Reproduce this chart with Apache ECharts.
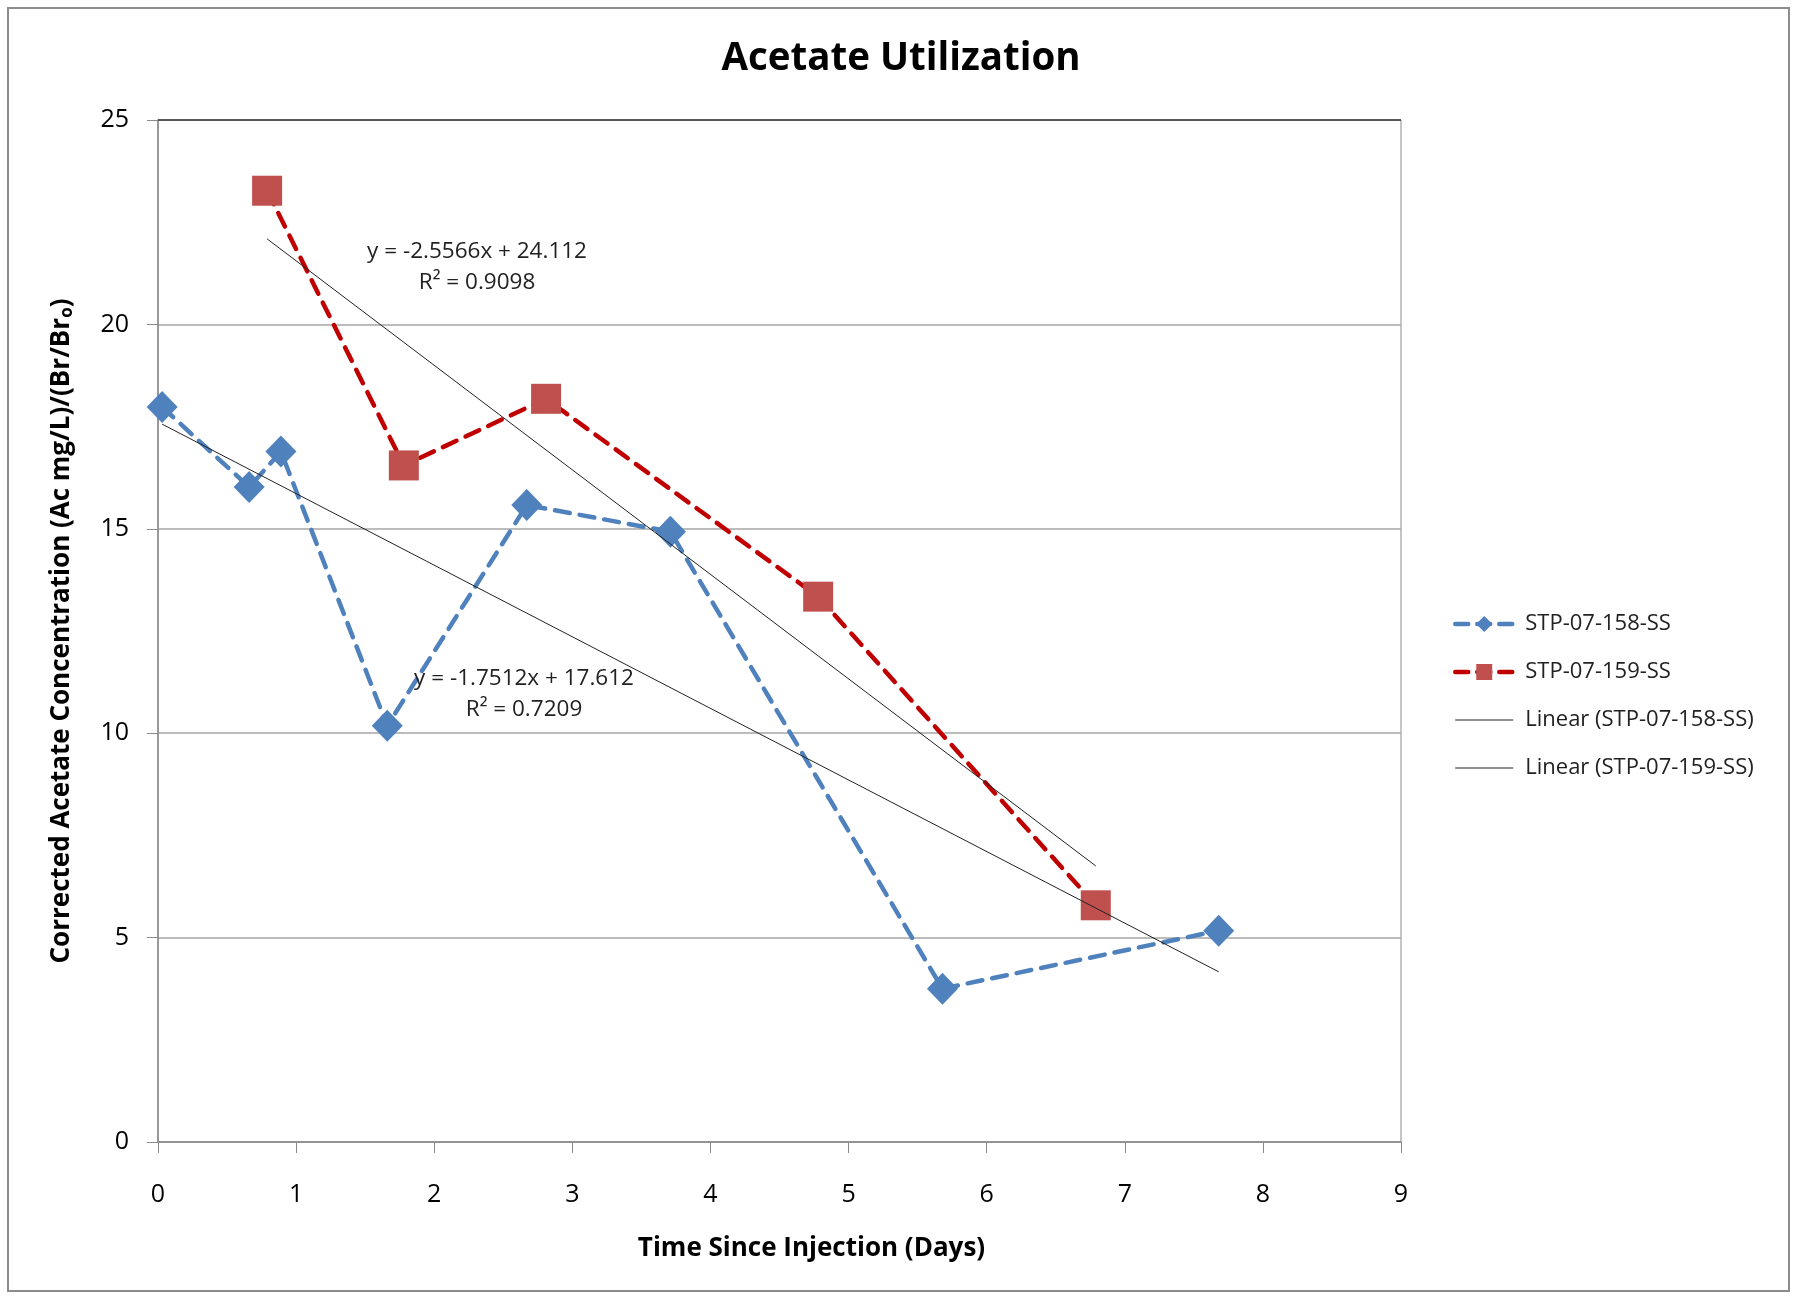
<!DOCTYPE html>
<html><head><meta charset="utf-8">
<script src="https://cdn.jsdelivr.net/npm/echarts@6/dist/echarts.min.js"></script>
<style>html,body{margin:0;padding:0;background:#fff}#c{width:1793px;height:1297px}</style>
</head><body><div id="c"></div>
<script>
// ---- data ----
const days158 = [0.03, 0.66, 0.89, 1.66, 2.67, 3.71, 5.68, 7.68];
const conc158 = [17.98, 16.02, 16.89, 10.18, 15.58, 14.93, 3.75, 5.17];
const days159 = [0.79, 1.78, 2.81, 4.78, 6.79];
const conc159 = [23.27, 16.55, 18.18, 13.34, 5.79];
// trendline equations as printed on the chart: [slope, intercept]
const fit158 = [-1.7512, 17.612];
const fit159 = [-2.5566, 24.112];
const r2_158 = '0.7209';
const r2_159 = '0.9098';
const seriesNames = ['STP-07-158-SS', 'STP-07-159-SS', 'Linear (STP-07-158-SS)', 'Linear (STP-07-159-SS)'];
const xTicks = [0, 1, 2, 3, 4, 5, 6, 7, 8, 9];
const yTicks = [0, 5, 10, 15, 20, 25];
// annotation anchors in data coordinates
const eqPos159 = [2.31, 21.77];
const eqPos158 = [2.65, 11.35];

const FONT = '"Open Sans", "Noto Sans", sans-serif';
const pair = (xs, ys) => xs.map((x, i) => [x, ys[i]]);
const trend = (xs, f) => [xs[0], xs[xs.length - 1]].map(x => [x, f[0] * x + f[1]]);

const chart = echarts.init(document.getElementById('c'), null, {renderer: 'canvas'});
const option = {
  backgroundColor: '#fff',
  animation: false,
  textStyle: {fontFamily: FONT},
  title: {
    text: 'Acetate Utilization', left: 896, top: 35, textAlign: 'center',
    textStyle: {fontFamily: FONT, fontWeight: 'bold', fontSize: 38.5, color: '#000'}
  },
  grid: {left: 158, top: 120, width: 1243, height: 1022, show: true, borderColor: '#8a8a8a', borderWidth: 1},
  legend: {
    orient: 'vertical', left: 1448, top: 608, itemWidth: 58, itemHeight: 20, itemGap: 26,
    textStyle: {fontFamily: FONT, fontSize: 22, color: '#222', padding: [0, 0, 0, 7]},
    data: [
      {name: seriesNames[0], lineStyle: {width: 4.5, type: [13, 9]}},
      {name: seriesNames[1], lineStyle: {width: 4.5, type: [13, 9]}},
      {name: seriesNames[2], itemStyle: {opacity: 0}, lineStyle: {width: 1}},
      {name: seriesNames[3], itemStyle: {opacity: 0}, lineStyle: {width: 1}}
    ]
  },
  xAxis: {
    type: 'value', min: 0, max: 9, interval: 1,
    name: 'Time Since Injection (Days)', nameLocation: 'middle', nameGap: 94,
    nameTextStyle: {fontFamily: FONT, fontWeight: 'bold', fontSize: 26, color: '#000', padding: [0, 0, 0, 64]},
    axisLine: {show: true, lineStyle: {color: '#8a8a8a', width: 1.5}},
    axisTick: {show: true, inside: false, length: 11, lineStyle: {color: '#8a8a8a'}},
    axisLabel: {fontFamily: FONT, fontSize: 25, color: '#000', margin: 40, formatter: v => xTicks.includes(v) ? String(v) : ''},
    splitLine: {show: false}
  },
  yAxis: {
    type: 'value', min: 0, max: 25, interval: 5,
    name: 'Corrected Acetate Concentration (Ac mg/L)/(Br/Br{s|o})', nameLocation: 'middle', nameGap: 82, nameRotate: 90,
    nameTextStyle: {fontFamily: FONT, fontWeight: 'bold', fontSize: 26, color: '#000',
      rich: {s: {fontFamily: FONT, fontWeight: 'bold', fontSize: 17, color: '#000', padding: [12, 0, 0, 0]}}},
    axisLine: {show: true, lineStyle: {color: '#8a8a8a', width: 1.5}},
    axisTick: {show: true, inside: false, length: 11, lineStyle: {color: '#8a8a8a'}},
    axisLabel: {fontFamily: FONT, fontSize: 25, color: '#000', margin: 29, formatter: v => yTicks.includes(v) ? String(v) : ''},
    splitLine: {show: true, lineStyle: {color: '#a6a6a6', width: 1.5}}
  },
  series: [
    {
      name: seriesNames[0], type: 'line', data: pair(days158, conc158),
      symbol: 'diamond', symbolSize: [31, 32], z: 4,
      itemStyle: {color: '#4F81BD'},
      lineStyle: {color: '#4F81BD', width: 4.5, type: [15, 10], cap: 'round'}
    },
    {
      name: seriesNames[1], type: 'line', data: pair(days159, conc159),
      symbol: 'rect', symbolSize: 30, z: 4,
      itemStyle: {color: '#C0504D'},
      lineStyle: {color: '#C00000', width: 4.5, type: [15, 10], cap: 'round'}
    },
    {
      name: seriesNames[2], type: 'line', data: trend(days158, fit158),
      symbol: 'none', z: 5, itemStyle: {color: '#222'},
      lineStyle: {color: '#222', width: 1}
    },
    {
      name: seriesNames[3], type: 'line', data: trend(days159, fit159),
      symbol: 'none', z: 5, itemStyle: {color: '#222'},
      lineStyle: {color: '#222', width: 1}
    }
  ]
};
chart.setOption(option);

function eqGraphic(pos, f, r2) {
  const p = chart.convertToPixel({gridIndex: 0}, pos);
  const sign = f[1] >= 0 ? '+ ' : '- ';
  return {
    type: 'text', x: p[0], y: p[1], z: 10,
    style: {
      text: 'y = ' + f[0] + 'x ' + sign + Math.abs(f[1]) + '\nR² = ' + r2,
      fontFamily: FONT, fontSize: 22.5, fill: '#222', align: 'center', verticalAlign: 'middle', lineHeight: 31
    }
  };
}
chart.setOption({
  graphic: [
    {type: 'rect', shape: {x: 8, y: 8, width: 1781, height: 1283}, style: {fill: 'none', stroke: '#8c8c8c', lineWidth: 2}, z: 0},
    {type: 'line', shape: {x1: 158, y1: 120, x2: 1401, y2: 120}, style: {stroke: '#3a3a3a', lineWidth: 1.5}, z: 1},
    eqGraphic([eqPos159[0], eqPos159[1] - 0.37], fit159, r2_159),
    eqGraphic([eqPos158[0], eqPos158[1] - 0.39], fit158, r2_158)
  ]
});
</script></body></html>
